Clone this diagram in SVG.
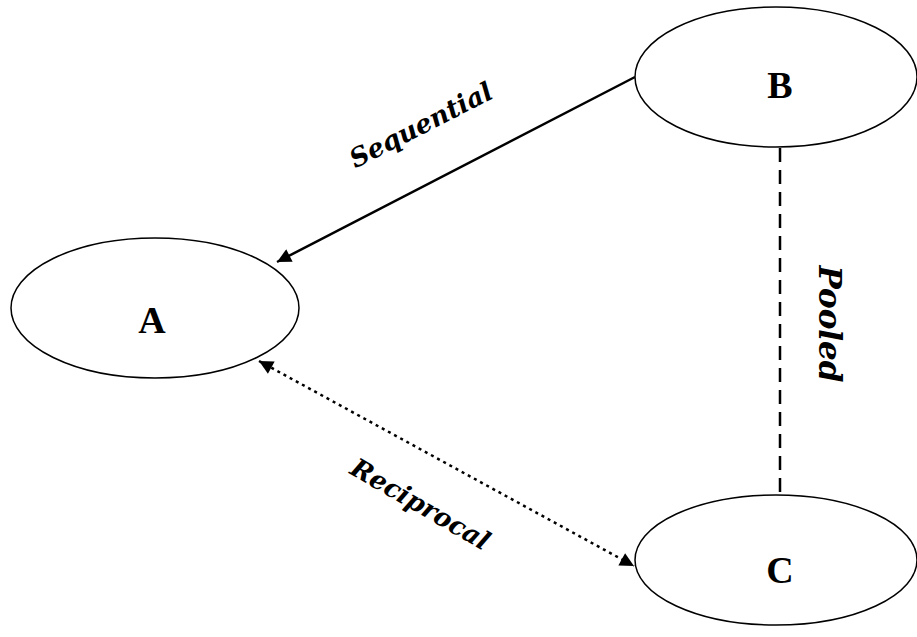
<svg xmlns="http://www.w3.org/2000/svg" width="917" height="637" viewBox="0 0 917 637">
<style>
.node{fill:#fff;stroke:#000;stroke-width:1.5}
.nl{font-family:"Liberation Serif",serif;font-weight:bold;font-size:38px;text-anchor:middle}
.el{font-family:"DejaVu Serif",serif;font-weight:bold;font-style:italic;font-size:26px;text-anchor:middle}
.c{fill:none;stroke:#000;stroke-width:2.5}
</style>
<defs>
<marker id="ah2" viewBox="0 0 10 10" refX="10" refY="5" markerWidth="16" markerHeight="14" markerUnits="userSpaceOnUse" orient="auto-start-reverse">
<path d="M0,0 L10,5 L0,10 z" fill="#000"/>
</marker>
</defs>
<g id="connectors">
<line class="c" x1="635" y1="77" x2="277" y2="262" marker-end="url(#ah2)"/>
<line class="c" x1="780" y1="148" x2="780" y2="495" stroke-dasharray="14,8"/>
<line class="c" x1="259" y1="361" x2="634" y2="566" stroke-width="3" stroke-dasharray="3,4" marker-start="url(#ah2)" marker-end="url(#ah2)"/>
<text class="el" transform="translate(425,133) rotate(-27)">Sequential</text>
<text class="el" transform="translate(819,324) rotate(90)" style="font-size:31px">Pooled</text>
<text class="el" transform="translate(416,512) rotate(30)">Reciprocal</text>
</g>
<g id="A">
<ellipse class="node" cx="155" cy="308" rx="144" ry="70"/>
<text class="nl" x="152" y="333">A</text>
</g>
<g id="B">
<ellipse class="node" cx="776" cy="77" rx="141" ry="70"/>
<text class="nl" x="780" y="98">B</text>
</g>
<g id="C">
<ellipse class="node" cx="776" cy="560" rx="141" ry="65"/>
<text class="nl" x="780" y="583">C</text>
</g>
</svg>
